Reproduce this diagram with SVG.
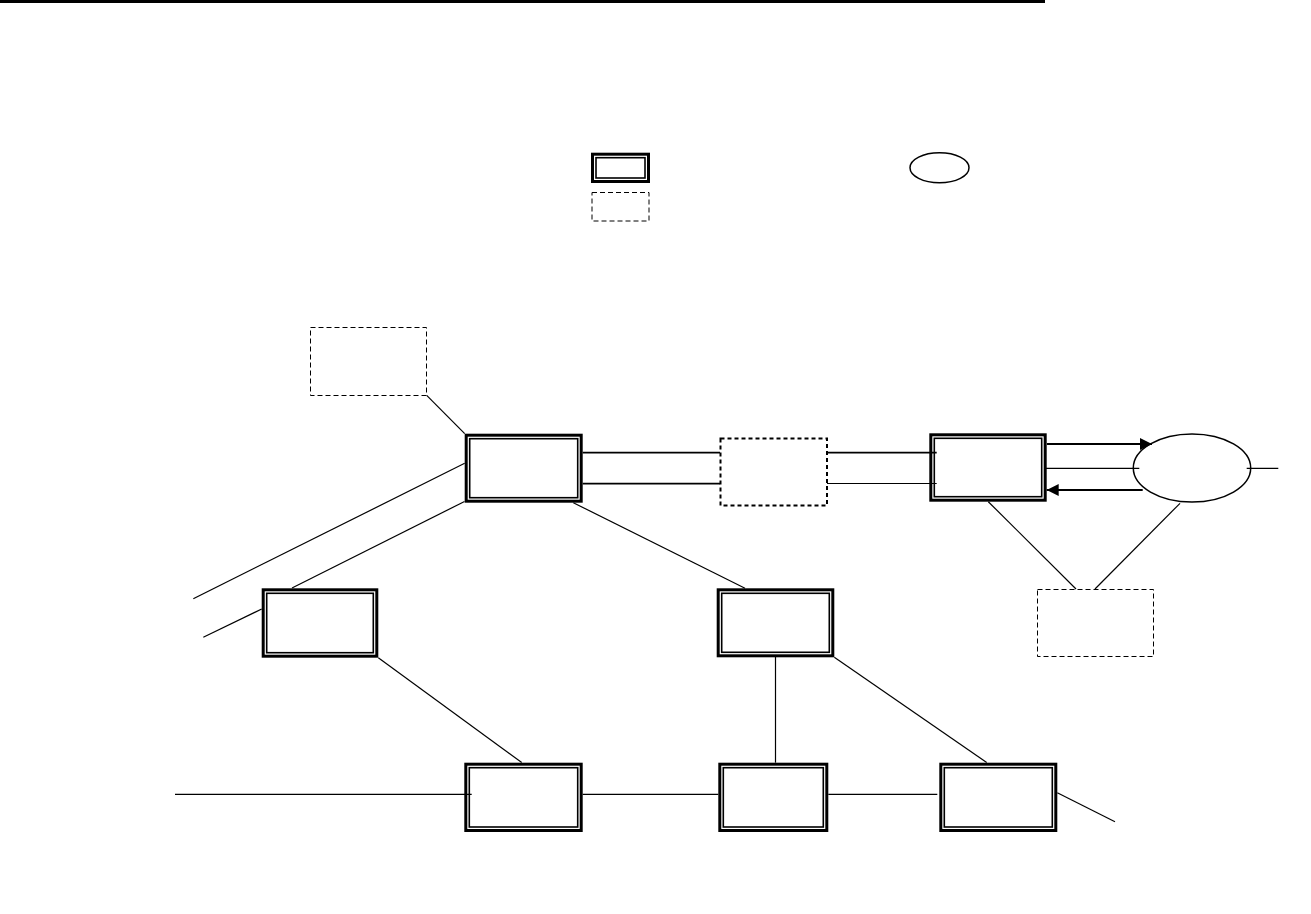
<svg xmlns="http://www.w3.org/2000/svg" width="1311" height="914" viewBox="0 0 1311 914">
<style>
.o{fill:#fff;stroke:#000;stroke-width:3}
.i{fill:none;stroke:#000;stroke-width:1.6}
.d{fill:#fff;stroke:#000;stroke-width:1;stroke-dasharray:5 3}
.dt{fill:#fff;stroke:#000;stroke-width:2;stroke-dasharray:4 3}
.e{fill:#fff;stroke:#000;stroke-width:1.5}
.c{stroke:#000;stroke-width:1.2;fill:none}
.t{stroke:#000;stroke-width:1.8;fill:none}
</style>
<defs>
<marker id="ah" markerUnits="userSpaceOnUse" markerWidth="13" markerHeight="13" refX="12" refY="6" orient="auto">
<path d="M0,0 L12,6 L0,12 Z" fill="#000"/>
</marker>
</defs>
<rect x="0" y="0" width="1045" height="3" fill="#000"/>
<g id="legend-box"><rect class="o" x="592.5" y="154.2" width="56" height="27.3"/><rect class="i" x="596" y="157.7" width="49" height="20.3"/></g>
<g id="legend-dashed"><rect class="d" x="592" y="192.5" width="57" height="28.5"/></g>
<g id="legend-ellipse"><ellipse class="e" cx="939.5" cy="167.7" rx="29.5" ry="15"/></g>
<g id="dashed-topleft"><rect class="d" x="310.5" y="327.5" width="116" height="68"/></g>
<g id="box-A"><rect class="o" x="466.2" y="435.2" width="115" height="66"/><rect class="i" x="469.7" y="438.7" width="108" height="59"/></g>
<g id="dashed-G"><rect class="dt" x="720.5" y="438.5" width="106.5" height="67"/></g>
<g id="box-H"><rect class="o" x="930.8" y="434.8" width="114.4" height="65.4"/><rect class="i" x="934.3" y="438.3" width="107.4" height="58.4"/></g>
<g id="ellipse-R"><ellipse class="e" cx="1192" cy="468" rx="58.7" ry="34"/></g>
<g id="box-B"><rect class="o" x="263.2" y="589.8" width="113.6" height="66.4"/><rect class="i" x="266.7" y="593.3" width="106.6" height="59.4"/></g>
<g id="box-C"><rect class="o" x="718.2" y="589.8" width="114.6" height="66"/><rect class="i" x="721.7" y="593.3" width="107.6" height="59"/></g>
<g id="dashed-I"><rect class="d" x="1037.5" y="589.5" width="116" height="67"/></g>
<g id="box-E"><rect class="o" x="465.8" y="764.2" width="115.4" height="66.3"/><rect class="i" x="469.3" y="767.7" width="108.4" height="59.3"/></g>
<g id="box-D"><rect class="o" x="719.8" y="764.2" width="107" height="66.3"/><rect class="i" x="723.3" y="767.7" width="100" height="59.3"/></g>
<g id="box-F"><rect class="o" x="940.8" y="764.2" width="115" height="66.3"/><rect class="i" x="944.3" y="767.7" width="108" height="59.3"/></g>
<g id="connectors">
<line class="c" x1="426.7" y1="395.3" x2="464.7" y2="433.7"/>
<line class="c" x1="464.7" y1="463.3" x2="193.3" y2="598.7"/>
<line class="c" x1="464.5" y1="501.5" x2="292" y2="588"/>
<line class="c" x1="261.7" y1="609" x2="203.3" y2="637.3"/>
<line class="c" x1="573.3" y1="502.7" x2="745" y2="588.3"/>
<line class="t" x1="582.7" y1="452.7" x2="720" y2="452.7"/>
<line class="t" x1="582.7" y1="483.7" x2="720" y2="483.7"/>
<line class="t" x1="827" y1="452.7" x2="936.7" y2="452.7"/>
<line class="c" x1="827" y1="483.5" x2="936.7" y2="483.5"/>
<line class="t" x1="1047" y1="444" x2="1152" y2="444" marker-end="url(#ah)"/>
<line class="c" x1="1045" y1="468.3" x2="1139.3" y2="468.3"/>
<line class="c" x1="1246.7" y1="468.3" x2="1278.3" y2="468.3"/>
<line class="t" x1="1142.7" y1="490" x2="1046.7" y2="490" marker-end="url(#ah)"/>
<line class="c" x1="988.3" y1="501.7" x2="1076" y2="589"/>
<line class="c" x1="1180" y1="503.3" x2="1095" y2="589"/>
<line class="c" x1="378.3" y1="657.7" x2="521.7" y2="762.5"/>
<line class="c" x1="775.5" y1="656.8" x2="775.5" y2="762.7"/>
<line class="c" x1="834.3" y1="657.3" x2="986.7" y2="762.5"/>
<line class="c" x1="175" y1="794.3" x2="471.7" y2="794.3"/>
<line class="c" x1="582.7" y1="794.3" x2="718.3" y2="794.3"/>
<line class="c" x1="828.3" y1="794.3" x2="937.3" y2="794.3"/>
<line class="c" x1="1057.3" y1="792.7" x2="1115" y2="821.7"/>
</g>
</svg>
